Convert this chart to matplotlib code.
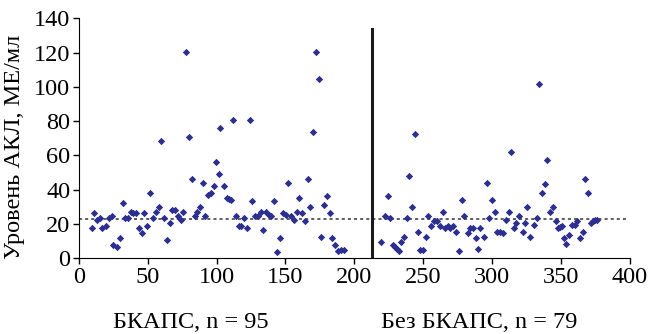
import matplotlib
matplotlib.use("Agg")
import matplotlib.pyplot as plt

# Group 1: BKAPS (x = patient index, y = level, ME/ml)
x_bkaps = [9.4, 11.1, 13.0, 15.5, 17.0, 19.4, 21.6, 23.8, 25.0, 27.4,
           29.6, 31.8, 33.5, 35.7, 37.9, 39.4, 41.3, 43.8, 46.0, 47.4,
           49.6, 51.8, 53.5, 55.7, 57.9, 59.9, 61.6, 63.8, 66.0, 67.7,
           69.9, 71.8, 74.0, 75.7, 77.9, 79.9, 82.3, 84.0, 86.0, 88.2,
           89.9, 91.8, 94.0, 96.0, 98.0, 99.7, 101.6, 102.4, 105.5, 107.7,
           109.2, 110.7, 111.6, 113.8, 116.0, 117.6, 119.6, 121.8, 124.0, 125.7,
           127.9, 130.0, 131.9, 133.9, 135.8, 137.8, 139.6, 141.8, 144.0, 146.2,
           147.9, 150.1, 151.9, 153.7, 155.9, 158.1, 160.1, 161.9, 163.9, 166.0,
           167.5, 169.7, 171.9, 174.1, 175.7, 178.0, 180.1, 182.3, 184.0, 186.2,
           188.0, 190.0, 192.2]
y_bkaps = [17.9, 26.2, 22.6, 23.7, 17.9, 18.9, 23.7, 24.9, 7.8, 6.6,
           12.1, 32.1, 23.7, 23.7, 26.8, 26.2, 26.2, 17.9, 15.0, 26.2,
           19.1, 38.1, 23.7, 26.8, 29.7, 68.6, 23.7, 10.9, 20.8, 28.0,
           28.0, 24.9, 22.6, 26.8, 120.5, 70.6, 46.3, 24.9, 26.8, 29.7,
           43.9, 24.9, 36.7, 37.9, 42.2, 56.4, 49.2, 75.8, 42.2, 35.0,
           34.4, 33.8, 80.7, 24.9, 19.1, 19.1, 23.7, 17.9, 80.7, 33.2,
           24.9, 24.9, 26.8, 16.7, 26.8, 25.5, 24.9, 33.2, 3.7, 12.1,
           26.2, 25.5, 43.9, 24.9, 22.6, 26.8, 35.0, 26.2, 22.0, 46.3,
           29.7, 73.5, 120.5, 104.8, 12.6, 30.9, 36.2, 26.2, 12.1, 7.8,
           4.3, 4.9, 4.9]

# Group 2: without BKAPS
x_none = [219.6, 221.9, 224.1, 225.6, 227.8, 229.2, 230.6, 232.1, 233.5, 236.0,
          238.1, 239.6, 241.8, 244.0, 246.1, 247.6, 249.8, 252.1, 253.6, 255.8,
          258.0, 260.1, 261.8, 264.0, 265.9, 267.6, 269.6, 271.7, 274.1, 275.6,
          277.8, 279.9, 282.1, 284.0, 286.2, 288.2, 289.6, 291.4, 293.9, 296.1,
          297.6, 299.8, 301.9, 303.6, 305.8, 308.0, 310.2, 311.9, 313.7, 315.9,
          317.6, 319.8, 322.0, 324.1, 325.6, 327.8, 330.0, 332.2, 333.7, 335.8,
          338.0, 339.8, 342.0, 344.1, 346.2, 347.7, 349.1, 350.6, 352.3, 353.8,
          356.0, 358.2, 360.4, 361.7, 363.9, 366.1, 367.5, 369.7, 371.9, 373.3,
          374.8, 375.8]
y_none = [9.7, 24.9, 36.2, 23.7, 7.8, 6.6, 5.4, 4.3, 9.7, 12.6,
          23.7, 48.2, 29.7, 72.3, 15.6, 4.9, 4.9, 12.6, 24.9, 19.1,
          22.0, 22.0, 19.1, 26.8, 17.9, 19.1, 17.9, 19.1, 15.6, 4.3,
          33.8, 24.9, 15.0, 17.9, 17.9, 12.1, 5.4, 17.9, 12.6, 43.9,
          23.7, 33.8, 26.8, 15.6, 15.6, 15.0, 22.6, 26.8, 62.2, 17.9,
          20.8, 24.9, 15.6, 20.8, 29.7, 12.6, 19.6, 23.7, 101.9, 37.9,
          43.4, 57.6, 26.8, 29.7, 22.0, 17.9, 18.5, 19.1, 12.1, 8.4,
          13.8, 19.6, 19.6, 22.0, 12.1, 15.6, 46.3, 37.9, 20.8, 22.0,
          22.6, 22.6]

threshold = 23
split_x = 213
group_labels = ["БКАПС, n = 95", "Без БКАПС, n = 79"]
y_label = "Уровень АКЛ, МЕ/мл"

plt.rcParams['font.family'] = ['Liberation Serif', 'DejaVu Serif']
plt.rcParams['font.size'] = 17.5

fig = plt.figure(figsize=(6.49, 3.34), dpi=100)
ax = fig.add_axes([0.1214, 0.2266, 0.8493, 0.7184])

color = '#2b2f8f'
ax.scatter(x_bkaps, y_bkaps, marker='D', s=14, color=color, linewidths=0, zorder=3)
ax.scatter(x_none, y_none, marker='D', s=14, color=color, linewidths=0, zorder=3)

# reference level and the split between the two groups
ax.plot([0, 397], [threshold, threshold], linestyle=(0, (2, 2)), color='#333333', linewidth=1.1, zorder=2)
ax.plot([split_x, split_x], [0, 134], color='#1a1a1a', linewidth=2.2, zorder=2)

ax.set_xlim(0, 400)
ax.set_ylim(0, 140)
ax.set_xticks(range(0, 401, 50))
ax.set_yticks(range(0, 141, 20))
ax.spines['top'].set_visible(False)
ax.spines['right'].set_visible(False)
ax.tick_params(direction='out', length=4, width=1, pad=2)
ax.set_ylabel(y_label)
ax.yaxis.set_label_coords(-0.098, 0.464)

fig.text(0.294, 0.019, group_labels[0], ha='center', va='baseline')
fig.text(0.738, 0.019, group_labels[1], ha='center', va='baseline')

fig.savefig('out.png', dpi=100)
